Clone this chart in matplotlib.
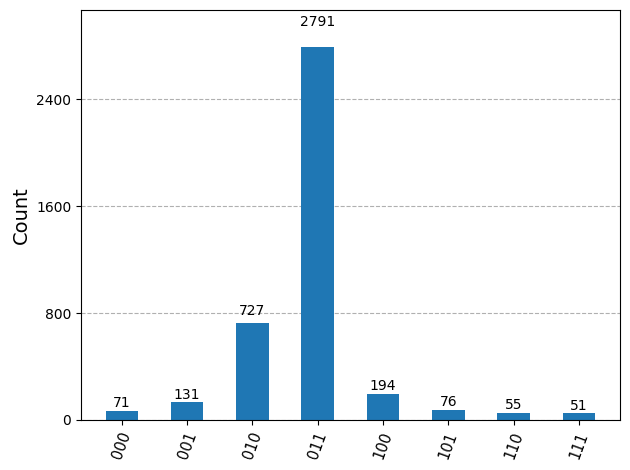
import numpy as np
import matplotlib
matplotlib.use("Agg")
import matplotlib.pyplot as plt
from matplotlib.ticker import MaxNLocator

# measured bitstring counts
states = ['000', '001', '010', '011', '100', '101', '110', '111']
counts = [71, 131, 727, 2791, 194, 76, 55, 51]

fig, ax = plt.subplots(figsize=(6.3, 4.7), dpi=100)

x = np.arange(len(states))
rects = ax.bar(x, counts, width=0.5, color='#1f77b4', zorder=2)

for rect in rects:
    h = rect.get_height()
    ax.text(rect.get_x() + rect.get_width() / 2.0, 1.05 * h, str(int(h)),
            ha='center', va='bottom', zorder=3)

ax.set_xticks(x)
ax.set_xticklabels(states, rotation=70, fontsize=10.5)
ax.set_ylim(0, 1.1 * max(counts))
ax.yaxis.set_major_locator(MaxNLocator(5))
ax.set_ylabel('Count', fontsize=14)
ax.grid(axis='y', linestyle='--', zorder=0)
ax.set_axisbelow(True)

fig.subplots_adjust(left=0.1286, right=0.984, top=0.9787, bottom=0.1064)
fig.savefig('out.png')
